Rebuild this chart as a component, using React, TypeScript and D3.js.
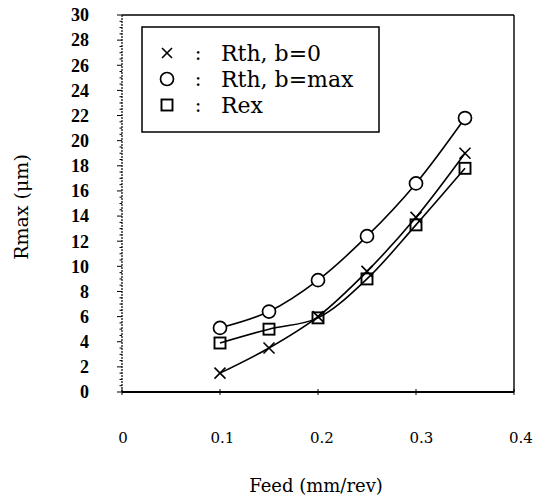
import React from "react";
import * as d3 from "d3";

const feed = [0.1, 0.15, 0.2, 0.25, 0.3, 0.35];
const rthB0 = [1.5, 3.5, 6.0, 9.6, 13.9, 19.0];
const rthBmax = [5.1, 6.4, 8.9, 12.4, 16.6, 21.8];
const rex = [3.9, 5.0, 5.9, 9.0, 13.3, 17.8];
const xTicks = [0, 0.1, 0.2, 0.3, 0.4];
const xTickLabels = ["0", "0.1", "0.2", "0.3", "0.4"];
const yTicks = [0, 2, 4, 6, 8, 10, 12, 14, 16, 18, 20, 22, 24, 26, 28, 30];
const legendLabels = ["Rth,  b=0", "Rth,  b=max", "Rex"];

const W = 534, H = 502;
const L = 122, R = 514, T = 15, B = 392;
const serif = "'DejaVu Serif', 'Liberation Serif', serif";
const serif2 = "'Liberation Serif', 'DejaVu Serif', serif";

export default function App() {
  const x = d3.scaleLinear().domain([0, 0.4]).range([L, R]);
  const y = d3.scaleLinear().domain([0, 30]).range([B, T]);
  const line = d3
    .line<number>()
    .x((_, i) => x(feed[i]))
    .y((d) => y(d))
    .curve(d3.curveCatmullRom.alpha(0.5));
  const minor = d3.range(0, 30.01, 0.5);

  const xMark = (cx: number, cy: number, s = 5.5, k = "") => (
    <g key={k} stroke="#000" strokeWidth={1.6}>
      <line x1={cx - s} y1={cy - s} x2={cx + s} y2={cy + s} />
      <line x1={cx - s} y1={cy + s} x2={cx + s} y2={cy - s} />
    </g>
  );
  const oMark = (cx: number, cy: number, k = "") => (
    <circle key={k} cx={cx} cy={cy} r={6.5} fill="#fff" stroke="#000" strokeWidth={1.7} />
  );
  const sMark = (cx: number, cy: number, k = "") => (
    <rect key={k} x={cx - 5.5} y={cy - 5.5} width={11} height={11} fill="none" stroke="#000" strokeWidth={1.9} />
  );

  return (
    <svg width={W} height={H} style={{ position: "absolute", left: 0, top: 0, background: "#fff" }}>
      <rect width={W} height={H} fill="#fff" />
      {/* frame */}
      <line x1={L} y1={T} x2={R} y2={T} stroke="#000" strokeWidth={1.6} />
      <line x1={R} y1={T} x2={R} y2={B} stroke="#000" strokeWidth={1.4} />
      <line x1={L} y1={B} x2={R} y2={B} stroke="#000" strokeWidth={2.2} />
      <line x1={L} y1={T} x2={L} y2={B} stroke="#000" strokeWidth={1.2} strokeDasharray="2 1" />
      {/* y minor ticks */}
      {minor.map((v, i) => (
        <line key={"m" + i} x1={L - (v % 2 === 0 ? 5 : 2.5)} x2={L} y1={y(v)} y2={y(v)} stroke="#000" strokeWidth={1} />
      ))}
      {yTicks.map((v) => (
        <text key={"yt" + v} x={89} y={y(v)} dy="0.35em" textAnchor="end" fontFamily={serif2} fontWeight="bold" fontSize={18}>
          {v}
        </text>
      ))}
      {xTicks.map((v, i) => (
        <g key={"xt" + i}>
          <line x1={x(v)} x2={x(v)} y1={B - 3} y2={B + 3} stroke="#000" strokeWidth={1} />
          <text x={x(v) + 1 + v * 15} y={438} dy="0.35em" textAnchor="middle" fontFamily={serif} fontSize={15}>
            {xTickLabels[i]}
          </text>
        </g>
      ))}
      <text x={316} y={486} dy="0.35em" textAnchor="middle" fontFamily={serif} fontSize={18}>
        Feed (mm/rev)
      </text>
      <text transform={`translate(21,207) rotate(-90)`} dy="0.35em" textAnchor="middle" fontFamily={serif} fontSize={19}>
        Rmax (μm)
      </text>
      {/* curves */}
      {[rthBmax, rex, rthB0].map((s, i) => (
        <path key={"c" + i} d={line(s) || ""} fill="none" stroke="#000" strokeWidth={1.6} />
      ))}
      {feed.map((f, i) => oMark(x(f), y(rthBmax[i]), "o" + i))}
      {feed.map((f, i) => sMark(x(f), y(rex[i]), "s" + i))}
      {feed.map((f, i) => xMark(x(f), y(rthB0[i]), 5.5, "x" + i))}
      {/* legend */}
      <rect x={142} y={27} width={237} height={105} fill="#fff" stroke="#000" strokeWidth={1.5} />
      {legendLabels.map((lab, i) => {
        const ly = 53 + i * 26;
        return (
          <g key={"lg" + i}>
            {i === 0 ? xMark(167, ly, 5) : i === 1 ? oMark(167, ly) : sMark(167, ly)}
            <text x={198} y={ly} dy="0.35em" textAnchor="middle" fontFamily={serif} fontSize={20}>:</text>
            <text x={221} y={ly} dy="0.35em" fontFamily={serif} fontSize={22}>
              {lab}
            </text>
          </g>
        );
      })}
    </svg>
  );
}
